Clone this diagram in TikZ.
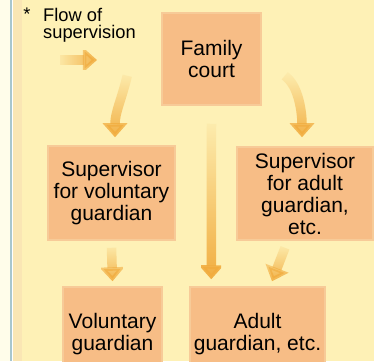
\documentclass[tikz,border=0pt]{standalone}
\usepackage{fontspec}
\setmainfont{Liberation Sans}
\usetikzlibrary{arrows.meta,fadings,calc}
\definecolor{bgmain}{HTML}{FEF1B6}
\definecolor{bgstrip}{HTML}{FAE6B4}
\definecolor{bgleft}{HTML}{FFFDEA}
\definecolor{edgeline}{HTML}{A9C6CE}
\definecolor{boxfill}{HTML}{F7BD86}
\definecolor{boxedge}{HTML}{F7CB98}
\definecolor{arrowc}{HTML}{F1AC3E}
\tikzfading[name=fadedown, top color=transparent!95, bottom color=transparent!0]
\tikzfading[name=faderight, left color=transparent!95, right color=transparent!0]
\begin{document}
\begin{tikzpicture}[x=1pt,y=-1pt,
  box/.style={draw=boxedge, line width=1.5pt, fill=boxfill, inner sep=0pt, align=center,
    font=\fontsize{21}{22}\selectfont},
  legend/.style={inner sep=0pt, font=\fontsize{18.3}{17}\selectfont},
  flow/.style={draw=arrowc, line width=9.5pt, -{Triangle[width=24pt,length=14pt]}, path fading=fadedown},
]
\useasboundingbox (0,0) rectangle (374,361);
\clip (0,0) rectangle (374,361);
% background
\fill[bgleft] (0,0) rectangle (10,361);
\fill[edgeline] (10,0) rectangle (11.5,361);
\fill[white] (11.5,0) rectangle (12.5,361);
\fill[bgstrip] (12.5,0) rectangle (22,361);
\fill[bgmain] (22,0) rectangle (374,361);
% boxes
\node[box, minimum width=99pt, minimum height=92pt] (fc) at (211.5,59) {Family\\court};
\node[box, minimum width=127pt, minimum height=94pt] (sv) at (111.5,193) {Supervisor\\for voluntary\\guardian};
\node[box, minimum width=136pt, minimum height=93pt] (sa) at (305,193.5) {Supervisor\\for adult\\guardian,\\etc.};
\node[box, minimum width=99pt, minimum height=94pt] (vg) at (112.5,334) {Voluntary\\guardian};
\node[box, minimum width=135pt, minimum height=94pt] (ag) at (257.5,334) {Adult\\guardian, etc.};
% legend
\node[legend, anchor=base] (ast) at (27,21) {*};
\node[legend, anchor=north west, align=left] (leg) at (43,8) {Flow of\\supervision};
\coordinate (ls) at (60,60);
\coordinate (le) at (97,60);
\draw[flow, path fading=faderight] (ls) -- (le);
% connectors
\draw[flow] ($(fc.south west)+(-34,-30)$) .. controls +(-6,25) and +(0,-25) .. ($(sv.north)+(3.5,-8)$);
\draw[flow] ($(fc.south east)+(23,-30)$) .. controls +(14,10) and +(0,-25) .. ($(sa.north)+(-3,-9)$);
\draw[flow] ($(fc.south)+(0,18)$) -- ($(ag.north west)+(22,-7)$);
\draw[flow] ($(sv.south)+(0,7)$) -- ($(vg.north)+(0,-5)$);
\draw[flow] ($(sa.south)+(-20,7)$) -- ($(ag.north)+(14.5,-5)$);
\end{tikzpicture}
\end{document}
